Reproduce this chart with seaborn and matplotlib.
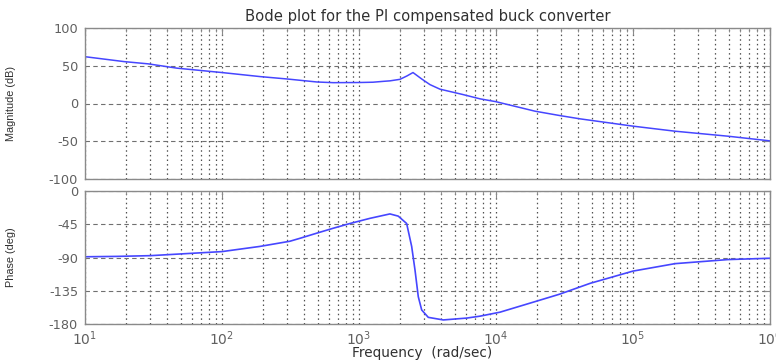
import numpy as np
import pandas as pd
import matplotlib
matplotlib.use("Agg")
import matplotlib.pyplot as plt
import seaborn as sns
from matplotlib.ticker import LogLocator, FixedLocator

# ---- data ----
mag_freq = [10, 19.3, 29, 47, 100, 191, 298, 493, 650, 1000, 1265, 1520, 1683, 1990,
            2240, 2480, 2870, 3300, 3900, 5700, 7640, 10000, 19300, 29300, 41000,
            1e5, 2.03e5, 4.93e5, 1e6]
mag_db = [62, 55.5, 52.5, 46.8, 41, 35.6, 32.5, 28.5, 27.6, 27.8, 28.2, 29.4, 30, 32,
          36.5, 41, 32.5, 25, 19, 12, 6.2, 2.4, -10.2, -16, -20.3,
          -30, -36.7, -43.3, -49.5]

ph_freq = [10, 17, 30, 100, 189, 313, 371, 493, 646, 859, 1202, 1683, 1936, 2229,
           2425, 2565, 2710, 2870, 3206, 4125, 6110, 7640, 10700, 19300, 29300,
           48600, 1e5, 2.03e5, 4.93e5, 1e6]
ph_deg = [-89, -88.5, -87.5, -82, -75, -68, -64, -57, -50.5, -44, -37, -31, -34, -44,
          -75, -107, -143, -161, -171, -174.5, -172, -169.4, -164, -149.7, -139.5,
          -125, -108.4, -98.3, -92.8, -91]

mag_ticks = [-100, -50, 0, 50, 100]
ph_ticks = [-180, -135, -90, -45, 0]

title = "Bode plot for the PI compensated buck converter"
xlabel = "Frequency  (rad/sec)"
ylabel_mag = "Magnitude (dB)"
ylabel_ph = "Phase (deg)"

sns.set_style("white")
plt.rcParams['font.family'] = ['DejaVu Sans']
plt.rcParams['axes.unicode_minus'] = False
plt.rcParams['mathtext.fontset'] = 'dejavusans'

fig = plt.figure(figsize=(7.76, 3.6), dpi=100)
ax1 = fig.add_axes([0.1095, 0.5028, 0.8827, 0.4194])
ax2 = fig.add_axes([0.1095, 0.100, 0.8827, 0.3694])

line_color = "#4646ff"
df_m = pd.DataFrame({"f": mag_freq, "v": mag_db})
df_p = pd.DataFrame({"f": ph_freq, "v": ph_deg})
sns.lineplot(data=df_m, x="f", y="v", ax=ax1, color=line_color, lw=1.1, estimator=None)
sns.lineplot(data=df_p, x="f", y="v", ax=ax2, color=line_color, lw=1.2, estimator=None)

frame_c = "#8a8a8a"
text_c = "#606060"
for ax, ticks in ((ax1, mag_ticks), (ax2, ph_ticks)):
    ax.set_xscale("log")
    ax.set_xlim(10, 1e6)
    ax.set_ylim(ticks[0], ticks[-1])
    ax.yaxis.set_major_locator(FixedLocator(ticks))
    ax.xaxis.set_major_locator(LogLocator(base=10, numticks=10))
    ax.xaxis.set_minor_locator(LogLocator(base=10, subs=np.arange(2, 10), numticks=20))
    ax.grid(True, which="major", axis="y", color="#707070", ls=(0, (4, 3)), lw=0.8)
    ax.grid(True, which="both", axis="x", color="#505050", ls=(0, (1.2, 2.5)), lw=0.9)
    for s in ax.spines.values():
        s.set_color(frame_c)
        s.set_linewidth(1.0)
    ax.tick_params(axis="both", which="both", direction="in", top=True, right=True,
                   colors=frame_c, labelcolor=text_c)
    ax.tick_params(axis="x", which="major", length=5, pad=4, labelsize=10)
    ax.tick_params(axis="x", which="minor", length=3)
    ax.tick_params(axis="y", length=4, pad=5, labelsize=9.3)
    ax.set_xlabel("")
    ax.set_ylabel("")

ax1.tick_params(axis="x", which="both", labelbottom=False)
ax1.set_title(title, fontsize=10.6, color="#303030", pad=5)
ax1.set_ylabel(ylabel_mag, fontsize=7.8, color="#303030", family="Liberation Sans")
ax2.set_ylabel(ylabel_ph, fontsize=7.8, color="#303030", family="Liberation Sans")
ax1.yaxis.set_label_coords(-0.1, 0.5)
ax2.yaxis.set_label_coords(-0.1, 0.5)
ax2.set_xlabel(xlabel, fontsize=9.8, color="#303030")
ax2.xaxis.set_label_coords(0.492, -0.165)

fig.savefig("out.png", dpi=100)
